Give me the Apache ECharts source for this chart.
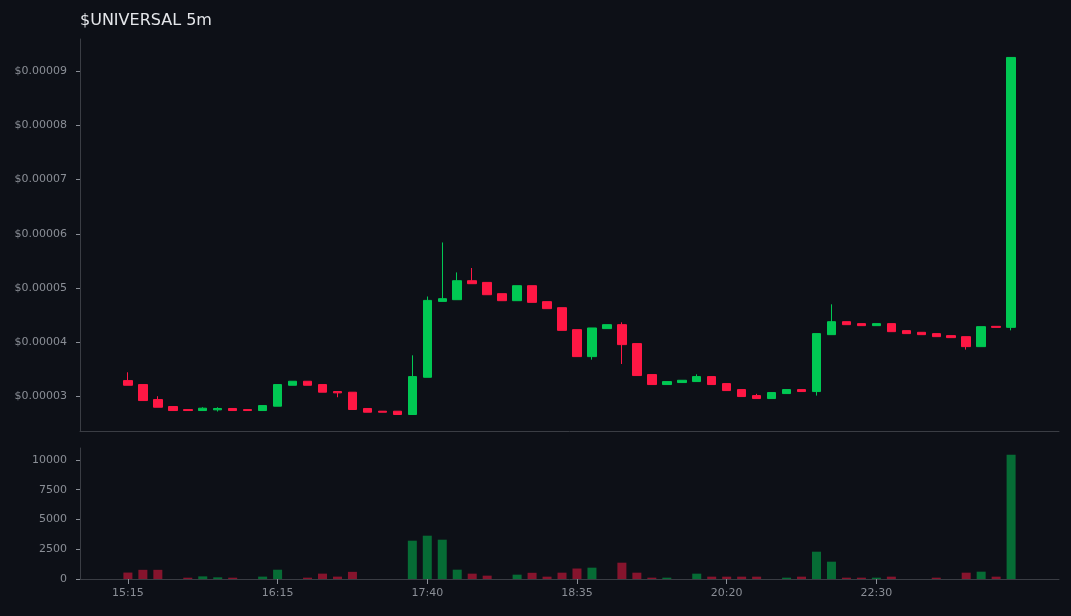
<!DOCTYPE html>
<html>
<head>
<meta charset="utf-8">
<script src="https://cdn.jsdelivr.net/npm/echarts@6/dist/echarts.min.js"></script>
<style>
html,body{margin:0;padding:0;background:#0d1017;}
#chart{width:1071px;height:616px;}
</style>
</head>
<body>
<div id="chart"></div>
<script>
// Candle times (5m bars, with gaps)
const times = ["15:15","15:20","15:25","15:30","15:40","15:45","15:50","15:55","16:05","16:10",
  "16:15","16:20","16:25","16:35","16:45","16:55","17:05","17:15","17:25","17:35",
  "17:40","17:45","17:50","17:55","18:00","18:05","18:10","18:15","18:20","18:30",
  "18:35","18:40","18:45","18:55","19:00","19:10","19:25","19:40","19:50","20:05",
  "20:20","20:30","20:45","21:00","21:15","21:25","21:35","21:40","21:55","22:10",
  "22:30","22:45","23:00","23:10","23:25","23:35","23:50","23:55","00:05","00:10"];

const opens = [3.294e-5,3.221e-5,2.945e-5,2.816e-5,2.760e-5,2.742e-5,2.755e-5,2.780e-5,2.760e-5,2.742e-5,
  2.822e-5,3.208e-5,3.282e-5,3.221e-5,3.092e-5,3.080e-5,2.780e-5,2.730e-5,2.730e-5,2.669e-5,
  3.355e-5,4.754e-5,4.785e-5,5.135e-5,5.104e-5,4.896e-5,4.767e-5,5.043e-5,4.749e-5,4.638e-5,
  4.233e-5,3.736e-5,4.252e-5,4.325e-5,3.976e-5,3.405e-5,3.221e-5,3.258e-5,3.276e-5,3.368e-5,
  3.239e-5,3.129e-5,3.018e-5,2.963e-5,3.055e-5,3.129e-5,3.092e-5,4.141e-5,4.380e-5,4.344e-5,
  4.307e-5,4.344e-5,4.215e-5,4.184e-5,4.160e-5,4.123e-5,4.104e-5,3.920e-5,4.294e-5,4.275e-5];
const closes = [3.208e-5,2.926e-5,2.803e-5,2.742e-5,2.742e-5,2.785e-5,2.780e-5,2.742e-5,2.742e-5,2.834e-5,
  3.221e-5,3.282e-5,3.208e-5,3.080e-5,3.068e-5,2.761e-5,2.711e-5,2.711e-5,2.669e-5,3.368e-5,
  4.772e-5,4.804e-5,5.135e-5,5.080e-5,4.877e-5,4.767e-5,5.043e-5,4.736e-5,4.620e-5,4.220e-5,
  3.736e-5,4.264e-5,4.325e-5,3.957e-5,3.387e-5,3.221e-5,3.276e-5,3.300e-5,3.368e-5,3.221e-5,
  3.110e-5,3.000e-5,2.963e-5,3.074e-5,3.129e-5,3.092e-5,4.160e-5,4.380e-5,4.325e-5,4.307e-5,
  4.344e-5,4.196e-5,4.160e-5,4.141e-5,4.104e-5,4.086e-5,3.920e-5,4.288e-5,4.275e-5,9.250e-5];
const lows = [3.208e-5,2.926e-5,2.803e-5,2.742e-5,2.742e-5,2.742e-5,2.724e-5,2.742e-5,2.742e-5,2.742e-5,
  2.822e-5,3.208e-5,3.208e-5,3.080e-5,2.987e-5,2.761e-5,2.711e-5,2.711e-5,2.669e-5,2.669e-5,
  3.355e-5,4.754e-5,4.785e-5,5.080e-5,4.877e-5,4.767e-5,4.767e-5,4.736e-5,4.620e-5,4.220e-5,
  3.736e-5,3.680e-5,4.252e-5,3.600e-5,3.387e-5,3.221e-5,3.221e-5,3.258e-5,3.276e-5,3.221e-5,
  3.110e-5,3.000e-5,2.963e-5,2.963e-5,3.055e-5,3.092e-5,3.018e-5,4.141e-5,4.325e-5,4.307e-5,
  4.307e-5,4.196e-5,4.160e-5,4.141e-5,4.104e-5,4.086e-5,3.865e-5,3.920e-5,4.275e-5,4.220e-5];
const highs = [3.447e-5,3.221e-5,3.006e-5,2.816e-5,2.760e-5,2.803e-5,2.803e-5,2.780e-5,2.760e-5,2.834e-5,
  3.221e-5,3.282e-5,3.282e-5,3.221e-5,3.092e-5,3.080e-5,2.780e-5,2.730e-5,2.730e-5,3.760e-5,
  4.844e-5,5.840e-5,5.288e-5,5.369e-5,5.104e-5,4.896e-5,5.043e-5,5.043e-5,4.749e-5,4.638e-5,
  4.233e-5,4.264e-5,4.325e-5,4.368e-5,3.976e-5,3.405e-5,3.276e-5,3.300e-5,3.410e-5,3.368e-5,
  3.239e-5,3.129e-5,3.050e-5,3.074e-5,3.129e-5,3.129e-5,4.160e-5,4.700e-5,4.380e-5,4.344e-5,
  4.344e-5,4.344e-5,4.215e-5,4.184e-5,4.160e-5,4.123e-5,4.104e-5,4.288e-5,4.294e-5,9.250e-5];
const volumes = [540,770,770,0,110,220,140,110,0,200,
  780,0,112,450,200,600,0,0,0,3217,
  3636,3300,783,448,280,0,364,520,196,531,
  880,951,0,1370,531,112,112,0,448,196,
  196,196,196,0,112,196,2293,1454,112,112,
  112,196,0,0,112,0,531,615,196,10430];

const priceTicks = [3e-5,4e-5,5e-5,6e-5,7e-5,8e-5,9e-5];
const volumeTicks = [0,2500,5000,7500,10000];
const timeTickIdx = [0,10,20,30,40,50];
const lastPrice = 9.25e-5;

const UP = '#00c853', DOWN = '#ff1744';
const axisCol = '#3a3d44', txtCol = '#8a8e96';
const font = 'DejaVu Sans';

const candleData = opens.map((o,i)=>[i, o, closes[i], lows[i], highs[i]]);
const volData = volumes.map((v,i)=>({
  value:[i, v],
  itemStyle:{color: closes[i] >= opens[i] ? 'rgba(0,200,83,0.5)' : 'rgba(255,23,68,0.5)'}
}));

const chart = echarts.init(document.getElementById('chart'), null, {renderer:'canvas'});
const xCommon = {type:'value', min:-3.2, max:62.2, splitLine:{show:false}};
chart.setOption({
  backgroundColor:'#0d1017',
  animation:false,
  title:{text:'$UNIVERSAL 5m', left:80, top:13, padding:0,
    textStyle:{color:'#e4e6ea', fontSize:16, fontWeight:'normal', fontFamily:font}},
  grid:[
    {left:80, right:12, top:39, height:392},
    {left:80, right:12, top:448, height:131}
  ],
  xAxis:[
    Object.assign({gridIndex:0}, xCommon, {
      axisLine:{show:true, onZero:false, lineStyle:{color:axisCol}},
      axisTick:{show:false}, axisLabel:{show:false}}),
    Object.assign({gridIndex:1}, xCommon, {
      axisLine:{show:true, onZero:false, lineStyle:{color:axisCol}},
      axisTick:{show:true, length:5, customValues:timeTickIdx, lineStyle:{color:txtCol}},
      axisLabel:{show:true, customValues:timeTickIdx, margin:9, color:txtCol, fontSize:11, fontFamily:font,
        formatter:(v)=>times[Math.round(v)]}})
  ],
  yAxis:[
    {type:'value', gridIndex:0, min:2.365e-5, max:9.59e-5, splitLine:{show:false},
     axisLine:{show:true, onZero:false, lineStyle:{color:axisCol}},
     axisTick:{show:true, length:4, customValues:priceTicks, lineStyle:{color:txtCol}},
     axisLabel:{customValues:priceTicks, margin:13, color:txtCol, fontSize:11, fontFamily:font,
       formatter:(v)=>'$'+v.toFixed(5)}},
    {type:'value', gridIndex:1, min:0, max:11000, splitLine:{show:false},
     axisLine:{show:true, onZero:false, lineStyle:{color:axisCol}},
     axisTick:{show:true, length:4, customValues:volumeTicks, lineStyle:{color:txtCol}},
     axisLabel:{customValues:volumeTicks, margin:13, color:txtCol, fontSize:11, fontFamily:font,
       formatter:(v)=>String(v)}}
  ],
  series:[
    {type:'candlestick', xAxisIndex:0, yAxisIndex:0, data:candleData, barWidth:9,
     encode:{x:0, y:[1,2,3,4]},
     itemStyle:{color:UP, color0:DOWN, borderColor:UP, borderColor0:DOWN, borderColorDoji:DOWN, borderWidth:1},
     markLine:{silent:true, symbol:['none','none'], label:{show:false},
       lineStyle:{color:'#c9a43a', type:[4,3], width:1},
       data:[{yAxis:lastPrice}]}},
    {type:'bar', xAxisIndex:1, yAxisIndex:1, data:volData, barWidth:9}
  ]
});
</script>
</body>
</html>
